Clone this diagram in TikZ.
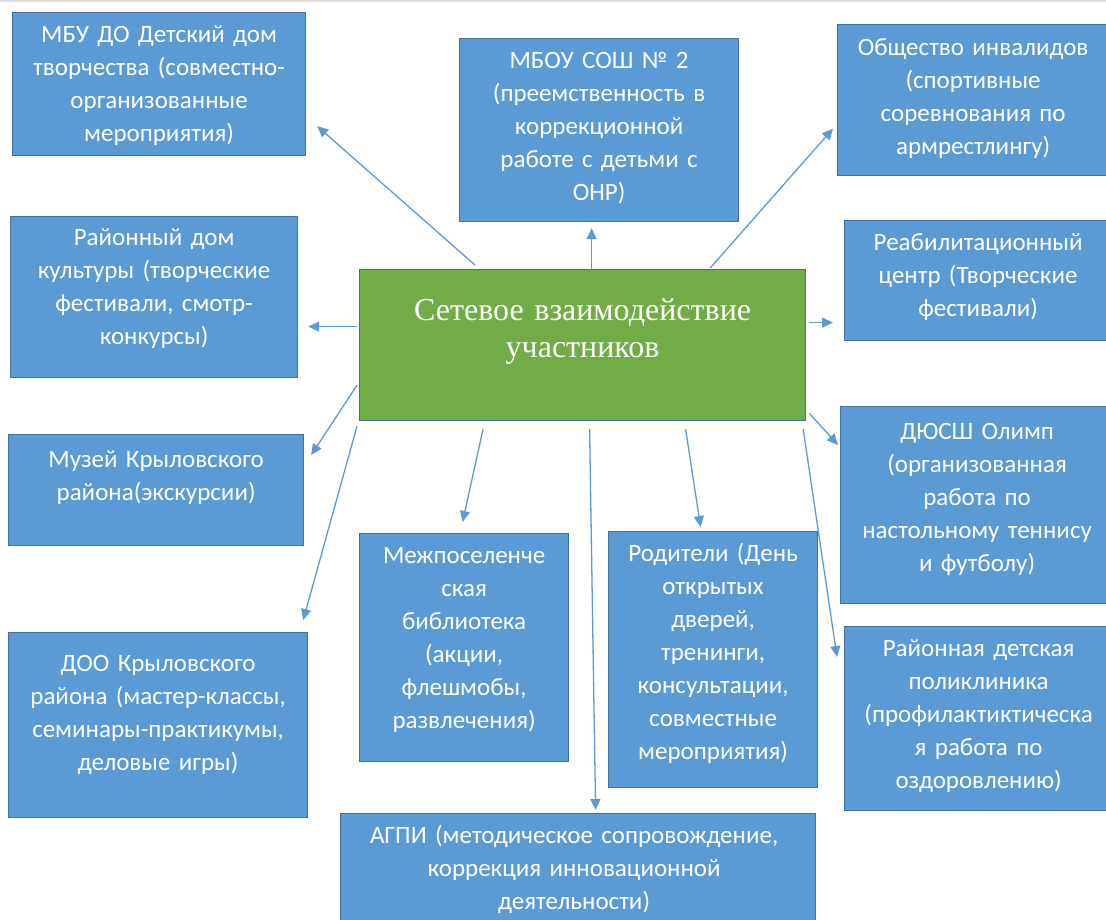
\documentclass[tikz,border=0pt]{standalone}
\usepackage{fontspec}
\setmainfont{Carlito}
\newfontfamily\hubfont{Liberation Serif}
\usetikzlibrary{arrows.meta}
\definecolor{boxblue}{HTML}{5B9BD5}
\definecolor{boxline}{HTML}{41719C}
\definecolor{hubgreen}{HTML}{70AD47}
\tikzset{
  box/.style={draw=boxline, line width=1.2pt, fill=boxblue, anchor=north west, inner sep=0pt},
  txt/.style={anchor=north, text=white, align=center, inner sep=0pt,
    font=\fontsize{25}{33}\selectfont, execute at begin node=\strut},
  arr/.style={draw=boxblue, line width=1.3pt, -{Triangle[length=11pt,width=10pt]}}
}
\begin{document}
\begin{tikzpicture}[x=1pt,y=-1pt]
      \useasboundingbox (0,0) rectangle (1106,919);
      \clip (0,0) rectangle (1106,919);
      \fill[white] (0,0) rectangle (1106,919);
      \draw[gray!25, line width=2pt] (0,1) -- (1106,1);
      % boxes
      \node[box, minimum width=293pt, minimum height=143pt] (mbu) at (12,12) {};
      \node[box, minimum width=279pt, minimum height=183pt] (sosh) at (459,38) {};
      \node[box, minimum width=271pt, minimum height=151pt] (obsh) at (837,24) {};
      \node[box, minimum width=287pt, minimum height=161pt] (rdk) at (10,216) {};
      \node[box, minimum width=267pt, minimum height=120pt] (reab) at (844,220) {};
      \node[box, minimum width=295pt, minimum height=111pt] (muz) at (8,434) {};
      \node[box, minimum width=273pt, minimum height=197pt] (dussh) at (840,406) {};
      \node[box, minimum width=299pt, minimum height=185pt] (doo) at (8,632) {};
      \node[box, minimum width=209pt, minimum height=228pt] (bibl) at (359,533) {};
      \node[box, minimum width=209pt, minimum height=256pt] (rod) at (608,531) {};
      \node[box, minimum width=268pt, minimum height=184pt] (poli) at (844,626) {};
      \node[box, minimum width=475pt, minimum height=130pt] (agpi) at (340,813) {};
      \node[box, fill=hubgreen, minimum width=446pt, minimum height=151pt] (hub) at (359,269) {};
      % texts
      \node[txt, text width=290pt] (mbu-t) at ([yshift=-7pt]mbu.north) {МБУ ДО Детский дом\\творчества (совместно-\\организованные\\мероприятия)};
      \node[txt, text width=275pt] (sosh-t) at ([yshift=-7pt]sosh.north) {МБОУ СОШ № 2\\(преемственность в\\коррекционной\\работе с детьми с\\ОНР)};
      \node[txt, text width=265pt] (obsh-t) at ([yshift=-8pt]obsh.north) {Общество инвалидов\\(спортивные\\соревнования по\\армрестлингу)};
      \node[txt, text width=285pt] (rdk-t) at ([yshift=-6pt]rdk.north) {Районный дом\\культуры (творческие\\фестивали, смотр-\\конкурсы)};
      \node[txt, text width=265pt] (reab-t) at ([yshift=-7pt]reab.north) {Реабилитационный\\центр (Творческие\\фестивали)};
      \node[txt, text width=290pt] (muz-t) at ([yshift=-10pt]muz.north) {Музей Крыловского\\района(экскурсии)};
      \node[txt, text width=270pt] (dussh-t) at ([yshift=-10pt]dussh.north) {ДЮСШ Олимп\\(организованная\\работа по\\настольному теннису\\и футболу)};
      \node[txt, text width=296pt] (doo-t) at ([yshift=-16pt]doo.north) {ДОО Крыловского\\района (мастер-классы,\\семинары-практикумы,\\деловые игры)};
      \node[txt, text width=206pt] (bibl-t) at ([yshift=-7pt]bibl.north) {Межпоселенче\\ская\\библиотека\\(акции,\\флешмобы,\\развлечения)};
      \node[txt, text width=206pt] (rod-t) at ([yshift=-7pt]rod.north) {Родители (День\\открытых\\дверей,\\тренинги,\\консультации,\\совместные\\мероприятия)};
      \node[txt, text width=265pt] (poli-t) at ([yshift=-7pt]poli.north) {Районная детская\\поликлиника\\(профилактиктическа\\я работа по\\оздоровлению)};
      \node[txt, text width=470pt] (agpi-t) at ([xshift=-4pt,yshift=-7pt]agpi.north) {АГПИ (методическое сопровождение,\\коррекция инновационной\\деятельности)};
      \node[txt, text width=440pt, font=\hubfont\fontsize{32}{37}\selectfont] (hub-t) at ([yshift=-25pt]hub.north) {Сетевое взаимодействие\\участников};
      % arrows
      \draw[arr] ([xshift=116pt,yshift=4pt]hub.north west) -- ([xshift=11pt,yshift=30pt]mbu.south east);
      \draw[arr] ([xshift=9pt]hub.north) -- ([xshift=-7.5pt,yshift=-6pt]sosh.south);
      \draw[arr] ([xshift=-96pt,yshift=1pt]hub.north east) -- ([xshift=-4pt,yshift=-28.5pt]obsh.west);
      \draw[arr] ([xshift=-2pt,yshift=18.5pt]hub.west) -- ([xshift=10pt,yshift=-29.5pt]rdk.east);
      \draw[arr] ([xshift=3pt,yshift=22.5pt]hub.east) -- ([xshift=-11pt,yshift=-42pt]reab.west);
      \draw[arr] ([xshift=-2pt,yshift=36pt]hub.south west) -- ([xshift=7pt,yshift=-21pt]muz.north east);
      \draw[arr] ([xshift=-2pt,yshift=-5pt]hub.south west) -- ([xshift=-5pt,yshift=12pt]doo.north east);
      \draw[arr] ([xshift=124pt,yshift=-8pt]hub.south west) -- ([xshift=-1.5pt,yshift=11pt]bibl.north);
      \draw[arr] ([xshift=7pt,yshift=-8pt]hub.south) -- ([xshift=17.5pt,yshift=3pt]agpi.north);
      \draw[arr] ([xshift=103pt,yshift=-8pt]hub.south) -- ([xshift=-12.5pt,yshift=4pt]rod.north);
      \draw[arr] ([xshift=3pt,yshift=8pt]hub.south east) -- ([xshift=-2pt,yshift=-39pt]dussh.north west);
      \draw[arr] ([xshift=-3pt,yshift=-8pt]hub.south east) -- ([xshift=-7pt,yshift=-31pt]poli.north west);
\end{tikzpicture}
\end{document}
